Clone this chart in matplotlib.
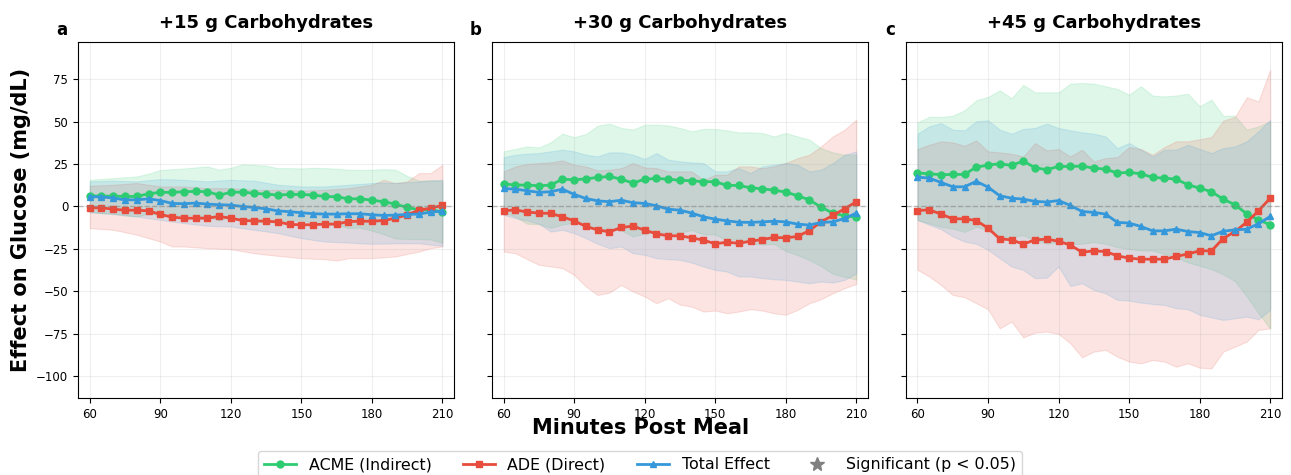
import numpy as np
import matplotlib
matplotlib.use("Agg")
import matplotlib.pyplot as plt
from matplotlib.lines import Line2D

# time axis (minutes after meal)
minutes = np.arange(60, 211, 5)

# +15 g panel
acme_15 = [6.3, 6.1, 6.1, 5.9, 5.9, 7.5, 8.3, 8.3, 8.7, 8.9, 8.7, 6.7, 8.3, 8.5, 7.7, 7.3,
           6.7, 7.1, 7.1, 6.7, 5.9, 5.7, 4.5, 4.5, 3.7, 2.8, 1.4, -0.6, -2.0, -2.0, -3.1]
acme_15_lo = [-3.1, -4.0, -4.5, -5.4, -5.9, -4.3, -4.9, -5.4, -5.0, -5.2, -6.2, -8.3, -6.2, -7.8, -9.1, -9.4,
              -9.2, -8.4, -8.2, -9.4, -10.8, -10.9, -12.7, -12.5, -14.3, -16.4, -18.9, -19.2, -19.2, -19.5, -21.4]
acme_15_hi = [15.7, 16.2, 16.7, 17.2, 17.7, 19.3, 21.5, 22.0, 22.4, 23.0, 23.6, 21.7, 22.8, 24.8, 24.5, 24.0,
              22.6, 22.6, 22.4, 22.8, 22.6, 22.3, 21.7, 21.5, 21.7, 22.0, 21.7, 18.0, 15.2, 15.5, 15.2]
ade_15 = [-0.8, -0.8, -1.6, -2.2, -2.2, -2.6, -4.7, -6.3, -6.9, -6.9, -6.9, -5.9, -6.9, -8.3, -8.5, -8.7,
          -9.1, -10.6, -10.8, -10.8, -10.4, -10.4, -8.9, -8.7, -8.7, -8.3, -6.9, -4.9, -2.2, -1.0, 0.6]
ade_15_lo = [-12.8, -13.3, -13.8, -15.2, -16.7, -18.7, -20.7, -23.6, -23.6, -24.1, -24.6, -24.9, -25.2, -26.4, -27.6, -28.4,
             -29.1, -29.8, -30.5, -30.8, -31.1, -31.9, -30.5, -30.5, -30.5, -30.0, -29.5, -28.0, -26.6, -24.6, -23.6]
ade_15_hi = [12.2, 12.5, 12.8, 13.3, 13.8, 12.8, 11.8, 11.8, 11.8, 11.3, 10.8, 10.8, 10.8, 10.3, 9.8, 9.8,
             9.8, 9.6, 9.4, 9.6, 9.8, 10.3, 10.8, 11.8, 12.8, 15.7, 13.8, 14.8, 19.7, 19.7, 24.6]
tot_15 = [5.7, 5.7, 4.9, 3.9, 3.9, 4.5, 3.5, 1.8, 1.6, 2.0, 1.4, 1.0, 0.8, 0.0, -0.6, -1.4,
          -2.6, -3.1, -3.7, -4.3, -4.5, -4.5, -4.3, -4.3, -4.9, -5.3, -5.1, -4.7, -4.5, -3.3, -2.8]
tot_15_lo = [-3.5, -3.9, -4.3, -5.1, -5.9, -6.9, -7.9, -8.9, -9.8, -10.6, -11.4, -11.6, -11.8, -12.8, -13.8, -14.7,
             -15.7, -17.2, -18.7, -19.7, -20.7, -21.0, -21.3, -21.7, -22.0, -21.9, -21.7, -21.7, -21.7, -22.5, -23.2]
tot_15_hi = [14.8, 15.0, 15.2, 15.0, 14.8, 15.5, 16.1, 16.0, 15.7, 15.2, 14.8, 15.3, 15.7, 15.4, 15.2, 14.0,
             12.8, 12.3, 11.8, 11.8, 11.8, 12.3, 12.8, 13.3, 13.8, 14.0, 13.8, 14.3, 14.8, 15.2, 15.7]

# +30 g panel
acme_30 = [13.4, 12.6, 12.6, 12.2, 12.6, 16.1, 15.7, 16.3, 17.1, 17.7, 16.1, 13.8, 16.1, 16.5, 16.1, 15.4,
           15.2, 14.6, 14.6, 12.4, 12.4, 11.0, 10.4, 9.6, 8.5, 6.3, 3.9, -0.4, -3.9, -5.5, -6.3]
acme_30_lo = [-3.5, -6.0, -10.2, -10.4, -12.6, -10.7, -9.5, -10.1, -13.4, -13.4, -14.1, -17.7, -16.0, -15.2, -15.6, -15.5,
              -13.9, -16.5, -16.5, -20.1, -18.9, -21.7, -22.5, -22.1, -26.3, -28.7, -31.6, -35.2, -39.7, -41.5, -43.1]
acme_30_hi = [32.5, 33.9, 35.4, 34.8, 37.8, 42.9, 40.9, 42.7, 47.6, 48.8, 46.3, 45.3, 48.2, 48.2, 47.8, 46.3,
              44.3, 45.7, 45.7, 44.9, 43.7, 43.7, 43.3, 41.3, 43.3, 41.3, 39.4, 34.4, 31.9, 30.5, 30.5]
ade_30 = [-2.6, -2.0, -3.3, -3.9, -4.1, -6.1, -8.5, -11.8, -13.8, -15.0, -12.4, -11.6, -14.0, -16.1, -17.3, -17.3,
          -18.5, -19.9, -22.0, -21.1, -21.7, -20.5, -19.5, -18.3, -18.5, -17.7, -14.2, -9.1, -5.3, -1.4, 2.8]
ade_30_lo = [-26.6, -27.6, -31.1, -34.4, -35.4, -36.4, -40.4, -47.2, -52.2, -50.8, -46.3, -50.2, -53.1, -57.1, -54.1, -57.9,
             -59.1, -62.0, -61.4, -63.0, -62.0, -60.6, -61.4, -63.0, -63.9, -61.0, -57.1, -54.7, -51.2, -48.2, -45.7]
ade_30_hi = [20.7, 23.6, 25.0, 25.6, 26.0, 27.2, 24.6, 23.6, 21.3, 21.7, 22.6, 25.6, 23.0, 22.6, 20.7, 20.7,
             20.7, 15.7, 18.7, 18.7, 23.6, 23.6, 22.6, 23.6, 25.6, 28.5, 30.5, 35.4, 41.3, 45.3, 51.2]
tot_30 = [10.6, 10.2, 9.3, 8.3, 8.7, 10.2, 7.1, 4.7, 3.3, 2.8, 3.7, 2.2, 1.8, 0.4, -1.6, -2.2,
          -3.9, -6.1, -7.5, -8.5, -9.3, -9.4, -9.1, -8.7, -9.1, -10.4, -11.0, -9.4, -9.1, -7.1, -3.9]
tot_30_lo = [-4.9, -6.9, -8.3, -10.2, -14.8, -13.8, -15.7, -18.7, -22.0, -24.6, -23.6, -27.6, -28.5, -30.5, -31.1, -31.5,
             -33.1, -35.4, -37.4, -38.4, -41.3, -41.3, -42.3, -42.9, -43.3, -44.3, -45.3, -44.3, -44.9, -43.3, -39.4]
tot_30_hi = [29.1, 30.5, 31.1, 31.5, 32.5, 33.5, 32.5, 30.5, 29.5, 31.9, 31.9, 30.5, 28.0, 31.5, 27.6, 26.6,
             26.0, 25.6, 20.7, 20.7, 22.6, 19.7, 23.6, 24.6, 25.6, 24.6, 20.7, 21.7, 25.6, 30.5, 32.5]

# +45 g panel
acme_45 = [19.7, 19.3, 18.7, 18.9, 18.9, 23.2, 24.4, 25.2, 24.2, 26.8, 22.8, 21.7, 23.6, 23.6, 23.8, 22.6,
           22.0, 19.7, 20.1, 19.3, 17.1, 16.7, 16.1, 12.8, 10.8, 8.7, 4.3, 1.0, -4.3, -7.9, -10.8]
acme_45_lo = [-8, -10, -12, -13, -15, -12, -14, -18, -18, -17, -20, -22, -21, -22, -22, -21,
              -22, -24, -25, -26, -26, -28, -30, -33, -35, -37, -40, -44, -53, -63, -72]
acme_45_hi = [49.6, 52.8, 52.8, 53.5, 56.7, 62.6, 64.6, 68.5, 63.8, 71.7, 67.3, 67.3, 67.3, 72.4, 72.8, 72.4,
              70.9, 69.3, 65.9, 70.9, 65.4, 64.9, 65.4, 66.5, 59.1, 63.0, 53.5, 53.5, 45.3, 47.2, 50.2]
ade_45 = [-2.4, -2.0, -4.5, -7.3, -7.3, -8.3, -12.8, -19.1, -19.7, -22.2, -19.7, -19.3, -20.5, -22.8, -27.0, -26.2,
          -26.6, -29.1, -30.5, -31.1, -31.1, -31.1, -29.5, -28.0, -26.2, -26.2, -18.9, -14.8, -9.3, -2.6, 4.9]
ade_45_lo = [-37.4, -41.3, -46.3, -52.2, -53.5, -57.1, -60.6, -71.9, -67.9, -77.2, -74.4, -73.8, -75.2, -80.7, -89.0, -85.6,
             -84.6, -88.6, -91.5, -92.5, -90.6, -91.5, -94.5, -92.5, -95.1, -95.5, -85.6, -82.7, -79.7, -72.8, -71.9]
ade_45_hi = [33.9, 36.4, 38.4, 37.8, 35.8, 39.0, 32.5, 31.9, 31.1, 29.5, 37.4, 33.1, 33.9, 29.5, 33.5, 26.6,
             28.5, 29.1, 35.0, 33.9, 30.5, 35.0, 38.4, 38.4, 39.6, 40.9, 50.6, 52.8, 64.4, 62.0, 80.7]
tot_45 = [17.3, 16.7, 14.2, 11.6, 11.6, 14.8, 11.4, 6.3, 4.9, 4.3, 3.0, 2.6, 3.5, 0.6, -3.0, -3.5,
          -4.5, -9.4, -9.8, -11.8, -14.4, -14.4, -13.4, -14.8, -15.4, -17.3, -14.6, -13.8, -13.4, -10.2, -5.9]
tot_45_lo = [-7.9, -10.8, -13.4, -17.7, -20.7, -22.0, -25.6, -30.5, -35.4, -37.4, -42.3, -42.0, -35.4, -46.9, -45.3, -49.2,
             -51.2, -55.1, -55.5, -56.7, -57.5, -58.1, -60.0, -60.6, -63.9, -65.4, -66.9, -66.0, -65.0, -66.5, -61.0]
tot_45_hi = [42.9, 47.2, 49.2, 45.3, 44.9, 50.2, 50.8, 45.3, 42.9, 45.7, 46.3, 48.8, 46.3, 44.9, 43.7, 42.9,
             41.3, 34.4, 37.4, 33.5, 29.5, 33.5, 33.5, 36.4, 33.9, 31.5, 34.4, 35.4, 38.4, 44.3, 51.2]

titles = ["+15 g Carbohydrates", "+30 g Carbohydrates", "+45 g Carbohydrates"]
letters = ["a", "b", "c"]
labels = ["ACME (Indirect)", "ADE (Direct)", "Total Effect", "Significant (p < 0.05)"]

GREEN = "#2ecc71"
RED = "#e74c3c"
BLUE = "#3498db"

panels = [
    [(acme_15, acme_15_lo, acme_15_hi), (ade_15, ade_15_lo, ade_15_hi), (tot_15, tot_15_lo, tot_15_hi)],
    [(acme_30, acme_30_lo, acme_30_hi), (ade_30, ade_30_lo, ade_30_hi), (tot_30, tot_30_lo, tot_30_hi)],
    [(acme_45, acme_45_lo, acme_45_hi), (ade_45, ade_45_lo, ade_45_hi), (tot_45, tot_45_lo, tot_45_hi)],
]
styles = [(GREEN, "o"), (RED, "s"), (BLUE, "^")]

fig, axes = plt.subplots(1, 3, figsize=(12.91, 4.75), dpi=100, sharey=True)
fig.subplots_adjust(left=0.0604, right=0.993, top=0.9116, bottom=0.162, wspace=0.1)

for ax, series, title, letter in zip(axes, panels, titles, letters):
    for (mean, lo, hi), (col, mk) in zip(series, styles):
        ax.fill_between(minutes, lo, hi, color=col, alpha=0.15, lw=0.8)
    handles = []
    for (mean, lo, hi), (col, mk) in zip(series, styles):
        h, = ax.plot(minutes, mean, "-", marker=mk, color=col, lw=2, ms=5)
        handles.append(h)
    ax.axhline(0, color="grey", ls="--", lw=1, alpha=0.5)
    ax.grid(True, alpha=0.2)
    ax.set_title(title, fontsize=13, fontweight="bold", pad=10)
    ax.text(-0.042, 1.035, letter, transform=ax.transAxes, fontsize=12,
            fontweight="bold", ha="center", va="center")
    ax.set_xticks([60, 90, 120, 150, 180, 210])
    ax.set_xlim(55, 215)
    ax.tick_params(labelsize=8.5)

axes[0].set_ylim(-113, 97)
axes[0].set_yticks([-100, -75, -50, -25, 0, 25, 50, 75])
axes[0].set_ylabel("Effect on Glucose (mg/dL)", fontsize=15, fontweight="bold")
fig.text(0.496, 0.098, "Minutes Post Meal", ha="center", va="center",
         fontsize=15, fontweight="bold")

star = Line2D([], [], marker="*", color="grey", ls="none", ms=10)
fig.legend(handles + [star], labels, loc="upper center", bbox_to_anchor=(0.4957, 0.067),
           ncol=4, fontsize=11.4)

fig.savefig("out.png", dpi=100)
